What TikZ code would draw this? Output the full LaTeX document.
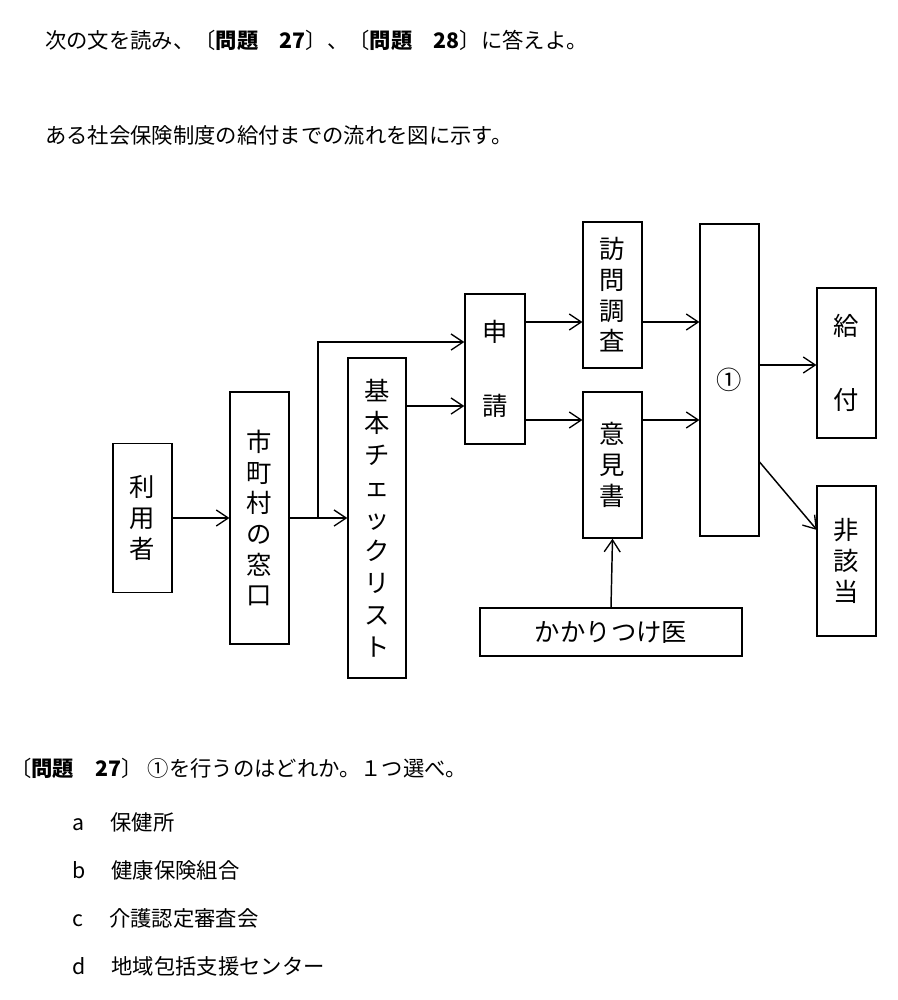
\documentclass[tikz,border=0pt]{standalone}
\usepackage{fontspec}
\setmainfont{Noto Sans CJK JP}
\usetikzlibrary{arrows.meta}
\begin{document}
\begin{tikzpicture}[x=0.75pt,y=-0.75pt,
  box/.style={draw,line width=1.1pt,inner sep=0pt,align=center,font=\fontsize{19}{23}\selectfont},
  arr/.style={line width=1.1pt,-{Straight Barb[length=9pt,width=12pt,line width=1pt]}},
  txt/.style={anchor=west,inner sep=0pt,font=\fontsize{16}{20}\selectfont}]
\useasboundingbox (0,0) rectangle (897,1000);
\node[box,minimum width=44pt,minimum height=112pt] (riyo) at (142.5,518) {利\\用\\者};
\node[box,minimum width=44pt,minimum height=189pt] (madoguchi) at (259.5,518) {市\\町\\村\\の\\窓\\口};
\node[box,minimum width=43.5pt,minimum height=240pt,font=\fontsize{19}{24}\selectfont] (kihon) at (377,518) {基\\本\\チ\\ェ\\ッ\\ク\\リ\\ス\\ト};
\node[box,minimum width=45pt,minimum height=112.5pt,font=\fontsize{19}{55}\selectfont] (shinsei) at (495,369) {申\\請};
\node[box,minimum width=44pt,minimum height=109.5pt] (homon) at (612.5,295) {訪\\問\\調\\査};
\node[box,minimum width=44pt,minimum height=109.5pt] (iken) at (612.5,465) {意\\見\\書};
\node[box,minimum width=44pt,minimum height=234pt] (one) at (729.5,380) {①};
\node[box,minimum width=44pt,minimum height=112.5pt,font=\fontsize{19}{55}\selectfont] (kyufu) at (846.5,363) {給\\付};
\node[box,minimum width=44pt,minimum height=112.5pt] (higaito) at (846.5,561) {非\\該\\当};
\node[box,minimum width=196.5pt,minimum height=36pt] (doctor) at (611,632) {かかりつけ医};
\coordinate (br) at (318,518);
\draw[arr] (riyo.east|-0,518) -- (madoguchi.west|-0,518);
\draw[arr] (madoguchi.east|-0,518) -- (kihon.west|-0,518);
\draw[arr] (br) -- (318,342) -- (shinsei.west|-0,342);
\draw[arr] (kihon.east|-0,406) -- (shinsei.west|-0,406);
\draw[arr] (shinsei.east|-0,322) -- (homon.west|-0,322);
\draw[arr] (shinsei.east|-0,420) -- (iken.west|-0,420);
\draw[arr] (homon.east|-0,322) -- (one.west|-0,322);
\draw[arr] (iken.east|-0,420) -- (one.west|-0,420);
\draw[arr] (one.east|-0,365) -- (kyufu.west|-0,365);
\draw[arr] (one.east|-0,462) -- (817,530);
\draw[arr] (doctor.north) -- (iken.south);
\node[txt] (t1) at (45,40) {次の文を読み、〔\textbf{問題　27}〕、〔\textbf{問題　28}〕に答えよ。};
\node[txt] (t2) at (45,135) {ある社会保険制度の給付までの流れを図に示す。};
\node[txt] (q) at (10,768) {〔\textbf{問題　27}〕 ①を行うのはどれか。１つ選べ。};
\node[txt] (a) at (72,822) {a　 保健所};
\node[txt] (b) at (72,870) {b　 健康保険組合};
\node[txt] (c) at (72,918) {c　 介護認定審査会};
\node[txt] (d) at (72,966) {d　 地域包括支援センター};
\end{tikzpicture}
\end{document}
